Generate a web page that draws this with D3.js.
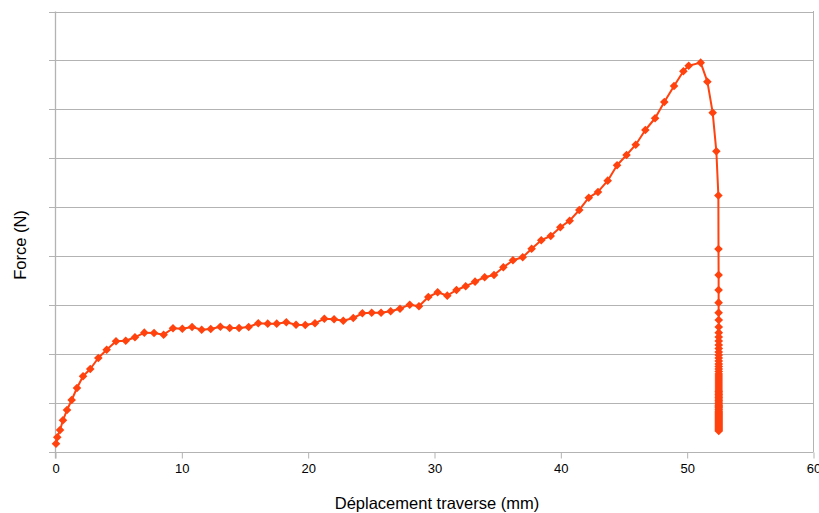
<!DOCTYPE html>
<html><head><meta charset="utf-8">
<script src="https://cdn.jsdelivr.net/npm/d3@7"></script>
<style>html,body{margin:0;padding:0;background:#fff;}svg{display:block;}</style>
</head><body><svg id="c" width="819" height="513"></svg>
<script>
// Displacement (mm)
const displacement = [
0.04,0.14,0.36,0.59,0.91,1.28,1.70,2.18,2.75,3.39,4.05,4.79,5.56,6.29,7.03,7.80,8.56,9.30,10.04,10.81,
11.57,12.29,13.05,13.79,14.53,15.29,16.05,16.80,17.51,18.27,19.04,19.77,20.54,21.28,22.05,22.78,23.57,24.29,25.03,25.77,
26.53,27.27,28.04,28.77,29.51,30.25,31.01,31.74,32.47,33.21,33.97,34.71,35.45,36.21,36.98,37.69,38.45,39.20,39.96,40.70,
41.46,42.21,42.94,43.71,44.45,45.20,45.93,46.69,47.46,48.19,48.96,49.70,50.12,51.07,51.60,52.02,52.31,52.47,52.48,52.49,
52.49,52.49,52.49,52.50,52.50,52.50,52.50,52.50,52.50,52.50,52.50,52.50,52.50,52.50,52.50,52.50,52.50,52.50,52.50,52.50,
52.50,52.50,52.50,52.50,52.50,52.50,52.50,52.50,52.50,52.50,52.50,52.50,52.50,52.50,52.50,52.50,52.50,52.50,52.50,52.50,
52.50,52.50,52.50,52.50,52.50,52.50,52.50,52.50,52.50,52.50,52.50,52.50,52.50,52.50,52.50,52.50,52.50,52.50,52.50,52.50,
52.50,52.50
];
// Force (N)
const force = [
17.0,30.0,45.0,64.8,85.8,106.3,130.8,154.7,169.6,192.1,209.0,226.2,227.4,234.4,243.8,243.2,239.7,252.8,251.9,255.4,
249.9,251.3,256.0,253.4,253.4,255.4,263.0,262.2,262.2,265.0,260.1,259.5,263.0,272.4,271.1,268.3,273.8,283.4,284.6,284.6,
287.5,292.8,301.0,297.7,316.7,326.3,319.4,331.0,338.6,348.0,357.0,361.7,377.4,391.7,397.8,415.4,432.6,441.4,459.1,472.6,
494.5,519.6,531.3,554.4,585.8,606.9,627.9,657.9,681.9,715.2,747.9,777.9,789.3,795.5,756.6,693.3,614.4,524.1,414.8,361.7,
331.0,305.1,284.6,269.7,255.4,243.8,235.0,226.8,218.6,211.5,204.3,198.2,192.1,185.9,179.8,174.7,169.6,164.5,159.4,155.3,
151.2,147.1,143.0,138.9,134.9,130.8,126.7,123.6,120.6,117.5,114.4,111.4,108.3,105.2,102.2,99.1,96.0,94.0,91.9,89.9,
86.8,83.8,81.7,79.7,77.6,75.6,73.6,71.5,69.5,67.4,65.4,63.3,61.3,59.3,57.2,55.2,53.1,51.1,49.0,47.0,
45.0,42.9
];
const xTicks = [0,10,20,30,40,50,60];
const yTicks = [0,100,200,300,400,500,600,700,800,900];
const xTitle = "Déplacement traverse (mm)";
const yTitle = "Force (N)";

const svg = d3.select("#c");
const L = 55.5, R = 813.5, T = 11.5, B = 452;
const x = d3.scaleLinear().domain([0,60]).range([L,R]);
const y = d3.scaleLinear().domain([0,900]).range([B,T]);
const grid = "#b3b3b3";
const font = "'Liberation Sans', Arial, sans-serif";

// horizontal gridlines + y ticks
svg.append("g").selectAll("line").data(yTicks).join("line")
  .attr("x1", L-6.5).attr("x2", R)
  .attr("y1", d => Math.round(y(d))+0.5).attr("y2", d => Math.round(y(d))+0.5)
  .attr("stroke", grid).attr("stroke-width", 1);

// y axis line and right border
svg.append("line").attr("x1", L).attr("x2", L).attr("y1", T).attr("y2", B+6.5)
  .attr("stroke", grid).attr("stroke-width", 1.3);
svg.append("line").attr("x1", R).attr("x2", R).attr("y1", T-0.5).attr("y2", B)
  .attr("stroke", grid).attr("stroke-width", 1);

// x axis
const xa = svg.append("g").attr("transform", `translate(0,${B+0.5})`)
  .call(d3.axisBottom(x).tickValues(xTicks).tickSize(6).tickPadding(5).tickFormat(d3.format("d")));
xa.select(".domain").remove();
xa.selectAll(".tick line").attr("stroke", grid);
xa.selectAll(".tick text").attr("fill", "#000").style("font-family", font).style("font-size", "13px");

// axis titles
svg.append("text").attr("x", 437).attr("y", 509).attr("text-anchor", "middle")
  .style("font-family", font).style("font-size", "16.5px").attr("fill", "#000").text(xTitle);
svg.append("text").attr("transform", "translate(26,245) rotate(-90)").attr("text-anchor", "middle")
  .style("font-family", font).style("font-size", "16.5px").attr("fill", "#000").text(yTitle);

// series
const pts = displacement.map((d,i) => [d, force[i]]);
const col = "#ff420e";
svg.append("path").datum(pts)
  .attr("d", d3.line().x(d => x(d[0])).y(d => y(d[1])))
  .attr("fill", "none").attr("stroke", col).attr("stroke-width", 2).attr("stroke-linejoin", "round");
const s = 4.3;
svg.append("g").selectAll("path").data(pts).join("path")
  .attr("transform", d => `translate(${x(d[0])},${y(d[1])})`)
  .attr("d", `M0,${-s}L${s},0L0,${s}L${-s},0Z`)
  .attr("fill", col);
</script>
</body></html>
